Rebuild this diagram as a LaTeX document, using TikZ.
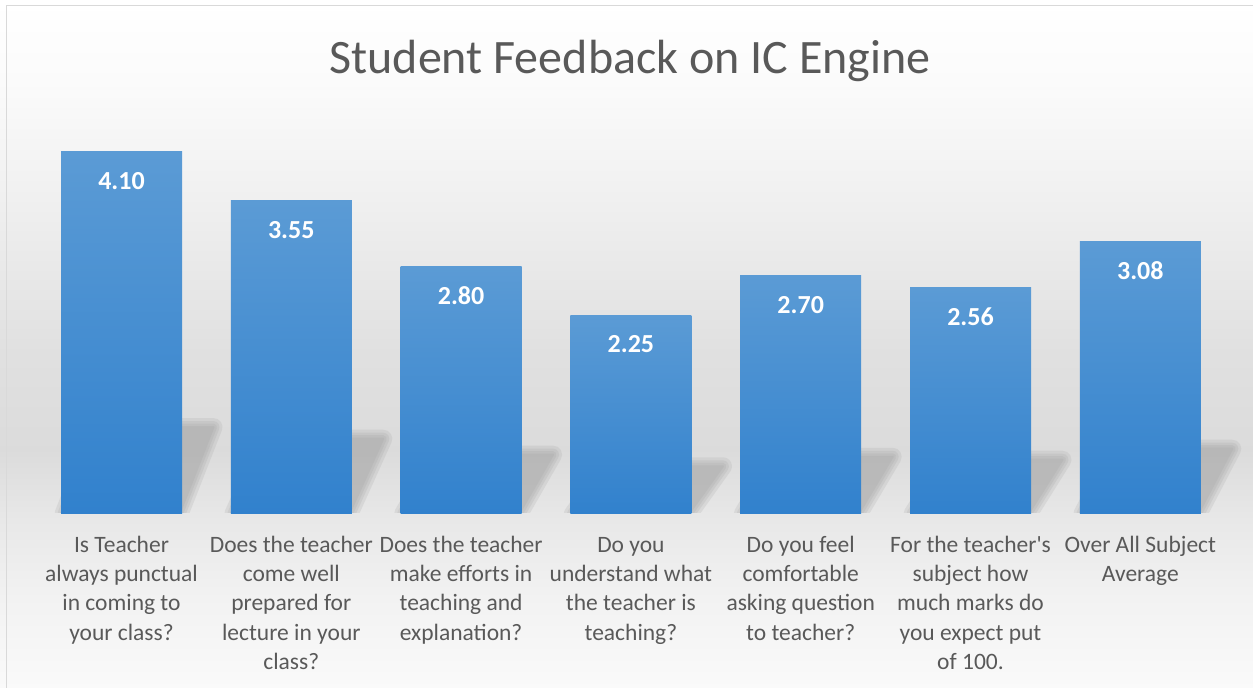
\documentclass[tikz,border=0pt]{standalone}
\usepackage{fontspec}
\setmainfont{Carlito}
\usetikzlibrary{positioning}

\definecolor{titlegray}{HTML}{595959}
\definecolor{barTop}{HTML}{5B9BD5}
\definecolor{barBot}{HTML}{3181CD}
\definecolor{shadowgray}{HTML}{9C9C9C}
\definecolor{framegray}{HTML}{D9D9D9}
\pgfdeclareverticalshading{chartbg}{100bp}{color(0bp)=(white!98!black); color(25bp)=(white!98!black);
  color(31.4bp)=(white!95!black); color(37.2bp)=(white!91!black); color(42.3bp)=(white!86!black);
  color(49.6bp)=(white!88!black); color(60.5bp)=(white!94!black); color(69.2bp)=(white!98.5!black);
  color(75bp)=(white); color(100bp)=(white)}

\begin{document}
\begin{tikzpicture}[x=1pt,y=-1pt,
    bar/.style={inner sep=0pt,minimum width=121pt,top color=barTop,bottom color=barBot},
    val/.style={text=white,font=\fontsize{26}{30}\selectfont\bfseries,inner sep=0pt},
    lbl/.style={text=titlegray,font=\fontsize{23.5}{29.3}\selectfont,align=center,inner sep=0pt},
    barshadow/.style={draw=shadowgray,fill=shadowgray,line join=round}]
    \useasboundingbox (0,0) rectangle (1253,688);
    \fill[shading=chartbg] (0,0) rectangle (1253,688);
    \draw[framegray,line width=1.5pt] (6.5,700) |- (1265,5.5);

    \node[font=\fontsize{48}{56}\selectfont,text=titlegray,anchor=base] (title) at (630,73) {Student Feedback on IC Engine};

    % soft shadows behind the bars
    \begin{scope}
        \clip (0,0) rectangle (1253,512);
        \foreach \x/\v in {121.5/4.10,291.3/3.55,461.1/2.80,630.9/2.25,800.7/2.70,970.5/2.56,1140.3/3.08}{
            \pgfmathsetmacro\sh{21.2*\v}
            \foreach \w in {18,12,7,2}{
                \begin{scope}[transparency group,opacity=.18]
                    \path[barshadow,line width=\w pt] (\x-58,514) -- ++(34,-\sh) -- ++(116,0) -- (\x+58,514) -- cycle;
                \end{scope}
            }
        }
    \end{scope}

    % bars and values
    \foreach \i/\x/\v in {1/121.5/4.10,2/291.3/3.55,3/461.1/2.80,4/630.9/2.25,5/800.7/2.70,6/970.5/2.56,7/1140.3/3.08}{
        \node[bar,minimum height=\v*88.3pt,anchor=south] (b\i) at (\x,514) {};
        \node[val,anchor=base] (v\i) at ([yshift=-38pt]b\i.north) {\v};
    }

    % category labels
    \foreach \i/\t in {1/{Is Teacher\\always punctual\\in coming to\\your class?},
                       2/{Does the teacher\\come well\\prepared for\\lecture in your\\class?},
                       3/{Does the teacher\\make efforts in\\teaching and\\explanation?},
                       4/{Do you\\understand what\\the teacher is\\teaching?},
                       5/{Do you feel\\comfortable\\asking question\\to teacher?},
                       6/{For the teacher\textquotesingle s\\subject how\\much marks do\\you expect put\\of 100.},
                       7/{Over All Subject\\Average}}{
        \node[lbl,below=20pt of b\i.south] (l\i) {\rule{0pt}{18pt}\t};
    }
\end{tikzpicture}
\end{document}
